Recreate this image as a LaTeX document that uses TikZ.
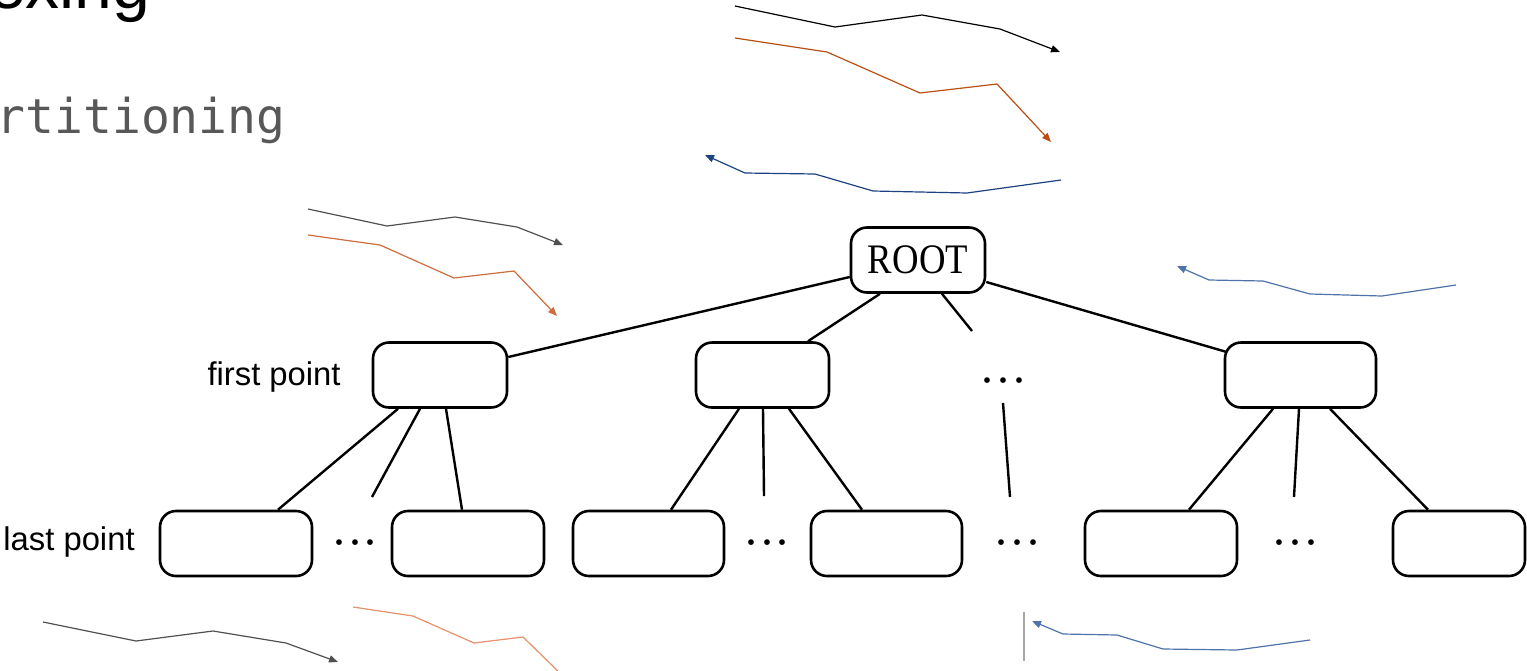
\documentclass[tikz,border=0pt]{standalone}
\usepackage{fontspec}
\setmainfont{Liberation Serif}
\newfontfamily\helv{Liberation Sans}
\newfontfamily\monof{DejaVu Sans Mono}
\usetikzlibrary{arrows.meta,calc}
\definecolor{orgA}{RGB}{186,78,20}
\definecolor{orgB}{RGB}{206,108,62}
\definecolor{orgC}{RGB}{228,145,108}
\definecolor{bluA}{RGB}{28,66,132}
\definecolor{bluB}{RGB}{78,114,170}
\definecolor{grayA}{RGB}{80,80,80}
\definecolor{titlegray}{RGB}{88,88,88}
\begin{document}
\begin{tikzpicture}[x=0.5pt,y=-0.5pt,
  box/.style={draw,line width=1.3pt,rounded corners=8pt,minimum height=32.5pt,inner sep=0pt},
  edge/.style={line width=1.2pt},
  lbl/.style={font=\helv\fontsize{16.4}{16.4}\selectfont,inner sep=0pt},
  dotsnode/.style={inner sep=0pt,anchor=base,font=\fontsize{24}{24}\selectfont},
  trail/.style={line width=0.6pt,-{Triangle[length=4.5pt,width=3.6pt]}},
]
\useasboundingbox (0,0) rectangle (1527,670);
\clip (0,0) rectangle (1527,670);

% titles
\node[anchor=base east,inner sep=0pt,font=\helv\fontsize{34}{34}\selectfont] (title) at (151,8) {Indexing};
\node[anchor=base east,inner sep=0pt,text=titlegray,font=\monof\fontsize{24}{24}\selectfont] (subtitle) at (286,133) {Partitioning};

% tree nodes
\node[box,minimum width=67pt,font=\fontsize{21}{21}\selectfont] (root) at (918,260) {\scalebox{0.875}[1]{ROOT}};
\node[box,minimum width=67pt] (A) at (440,375) {};
\node[box,minimum width=66.5pt] (B) at (762.5,375) {};
\node[dotsnode] (d1) at (1003,396) {···};
\node[box,minimum width=75.5pt] (D) at (1300.5,375) {};

\node[box,minimum width=76pt] (c1) at (236,543.5) {};
\node[box,minimum width=76pt] (c2) at (468,543.5) {};
\node[box,minimum width=75.5pt] (c3) at (648.5,543.5) {};
\node[box,minimum width=75.5pt] (c4) at (886.5,543.5) {};
\node[box,minimum width=76pt] (c5) at (1161,543.5) {};
\node[box,minimum width=66pt] (c6) at (1459,543.5) {};

\node[dotsnode] (d2) at (355,558) {···};
\node[dotsnode] (d3) at (767,558) {···};
\node[dotsnode] (d4) at (1017,558) {···};
\node[dotsnode] (d5) at (1295,558) {···};

% labels
\node[lbl,anchor=base east] (first) at (341,385) {first point};
\node[lbl,anchor=base west] (last) at (3,550) {last point};

% stub ends
\coordinate (s0) at (972,331);
\coordinate (s1) at (1010,497);
\coordinate (sA) at (372,497);
\coordinate (sB) at (764,496);
\coordinate (sD) at (1294,497);

% edges level 1
\draw[edge] ($(root.west)+(0,17)$) -- ($(A.east)+(0,-18)$);
\draw[edge] ($(root.south)+(-38,0)$) -- ($(B.north)+(45.5,0)$);
\draw[edge] ($(root.south)+(24,0)$) -- (s0);
\draw[edge] ($(root.east)+(0,22)$) -- ($(D.west)+(3,-23)$);
\draw[edge] ($(d1.base)+(0,7)$) -- (s1);

% edges level 2
\draw[edge] ($(A.south)+(-42,0)$) -- ($(c1.north)+(42,0)$);
\draw[edge] ($(A.south)+(-20,0)$) -- (sA);
\draw[edge] ($(A.south)+(6,0)$) -- ($(c2.north)+(-6,0)$);
\draw[edge] ($(B.south)+(-23.5,0)$) -- ($(c3.north)+(22.5,0)$);
\draw[edge] ($(B.south)+(0.5,0)$) -- (sB);
\draw[edge] ($(B.south)+(26.5,0)$) -- ($(c4.north)+(-24.5,0)$);
\draw[edge] ($(D.south)+(-27.5,0)$) -- ($(c5.north)+(28,0)$);
\draw[edge] ($(D.south)+(-1.5,0)$) -- (sD);
\draw[edge] ($(D.south)+(29.5,0)$) -- ($(c6.north)+(-31,0)$);

% trajectory sketches, top
\draw[trail,black] (735,6) -- (835,27) -- (922,15) -- (1000,29) -- (1060,52);
\draw[trail,orgA] (735,38) -- (827,52) -- (920,93) -- (997,84) -- (1051,142);
\draw[trail,bluA] (1061,180) -- (967,193) -- (873,191) -- (815,174) -- (745,173) -- (705,155);

% middle left
\draw[trail,grayA] (308,209) -- (387,226) -- (455,217) -- (517,227) -- (563,245);
\draw[trail,orgB] (308,235) -- (380,245) -- (454,278) -- (514,271) -- (557,316);

% right
\draw[trail,bluB] (1456,285) -- (1382,296) -- (1310,294) -- (1263,281) -- (1209,280) -- (1177,266);

% bottom
\draw[trail,grayA] (43,622) -- (136,641) -- (213,631) -- (286,643) -- (338,662);
\draw[line width=0.6pt,orgC] (353,607) -- (413,616) -- (474,643) -- (523,637) -- (565,678);
\draw[line width=0.6pt,black!35] (1024,612) -- (1024,661);
\draw[trail,bluB] (1310,640) -- (1237,650) -- (1163,649) -- (1117,635) -- (1063,634) -- (1032,621);
\end{tikzpicture}
\end{document}
